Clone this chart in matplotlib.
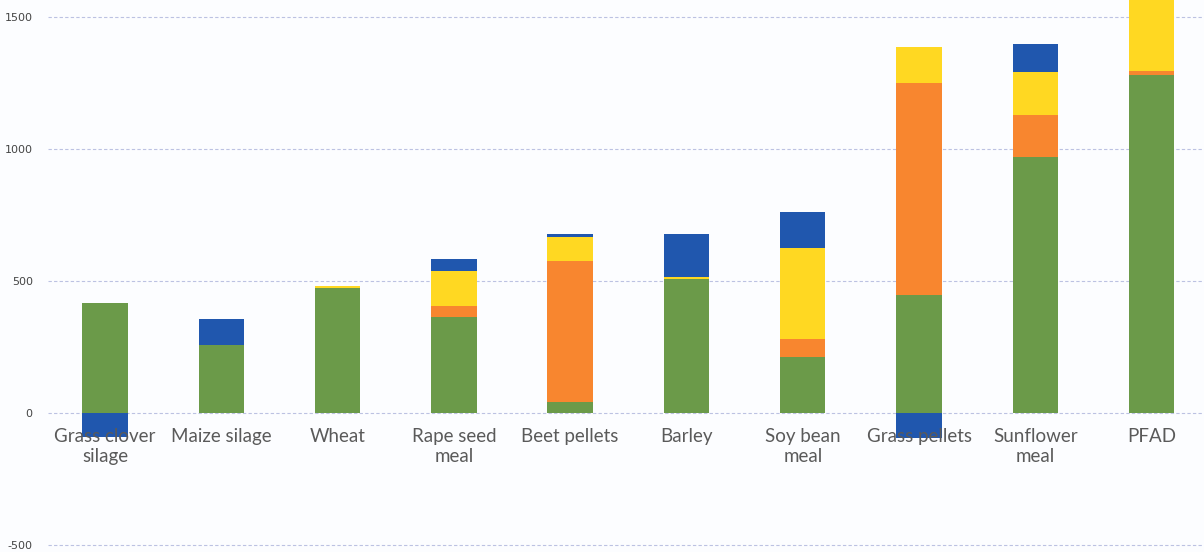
import numpy as np
import matplotlib.pyplot as plt

# feed categories and stacked contributions (green, orange, yellow, blue)
categories = ["Grass clover\nsilage", "Maize silage", "Wheat", "Rape seed\nmeal",
              "Beet pellets", "Barley", "Soy bean\nmeal", "Grass pellets",
              "Sunflower\nmeal", "PFAD"]
green = [418, 258, 475, 365, 43, 508, 213, 447, 968, 1280]
orange = [0, 0, 0, 40, 533, 0, 66, 804, 161, 15]
yellow = [0, 0, 7, 134, 89, 8, 345, 134, 164, 400]
blue = [-91, 98, 0, 44, 13, 161, 136, -95, 105, 0]

yticks = [-500, 0, 500, 1000, 1500]

colors = {
    "green": "#6b9a49",
    "orange": "#f8862f",
    "yellow": "#ffd822",
    "blue": "#2057ae",
}

fig = plt.figure(figsize=(12.04, 5.52), dpi=100)
fig.patch.set_facecolor("#fcfdff")
ax = fig.add_axes([48 / 1204, 0, 1 - 48 / 1204, 1])
ax.set_facecolor("#fcfdff")

x = np.arange(len(categories))
w = 0.39

g = np.array(green, dtype=float)
o = np.array(orange, dtype=float)
yl = np.array(yellow, dtype=float)
b = np.array(blue, dtype=float)

ax.bar(x, g, w, color=colors["green"], zorder=3)
ax.bar(x, o, w, bottom=g, color=colors["orange"], zorder=3)
ax.bar(x, yl, w, bottom=g + o, color=colors["yellow"], zorder=3)
# negative blue hangs below zero, positive blue sits on top of the stack
blue_bottom = np.where(b < 0, 0, g + o + yl)
ax.bar(x, b, w, bottom=blue_bottom, color=colors["blue"], zorder=3)

ax.set_xlim(-0.49, 9.45)
ax.set_ylim(-526, 1564)
ax.set_yticks(yticks)
ax.set_yticklabels([str(t) for t in yticks], fontsize=8, color="#444444",
                   family="DejaVu Sans")
ax.tick_params(axis="y", length=0, pad=11)
ax.set_xticks([])
ax.grid(axis="y", color="#bcc2e2", linestyle=(0, (3, 2)), linewidth=0.8, zorder=0)
for s in ax.spines.values():
    s.set_visible(False)

for xi, lab in zip(x, categories):
    ax.annotate(lab, (xi, 0), xytext=(0, -10.5), textcoords="offset points",
                ha="center", va="top", fontsize=13.5, color="#5a5a5a",
                family="Lato", linespacing=1.22, zorder=5)

fig.savefig("out.png", dpi=100, facecolor=fig.get_facecolor())
